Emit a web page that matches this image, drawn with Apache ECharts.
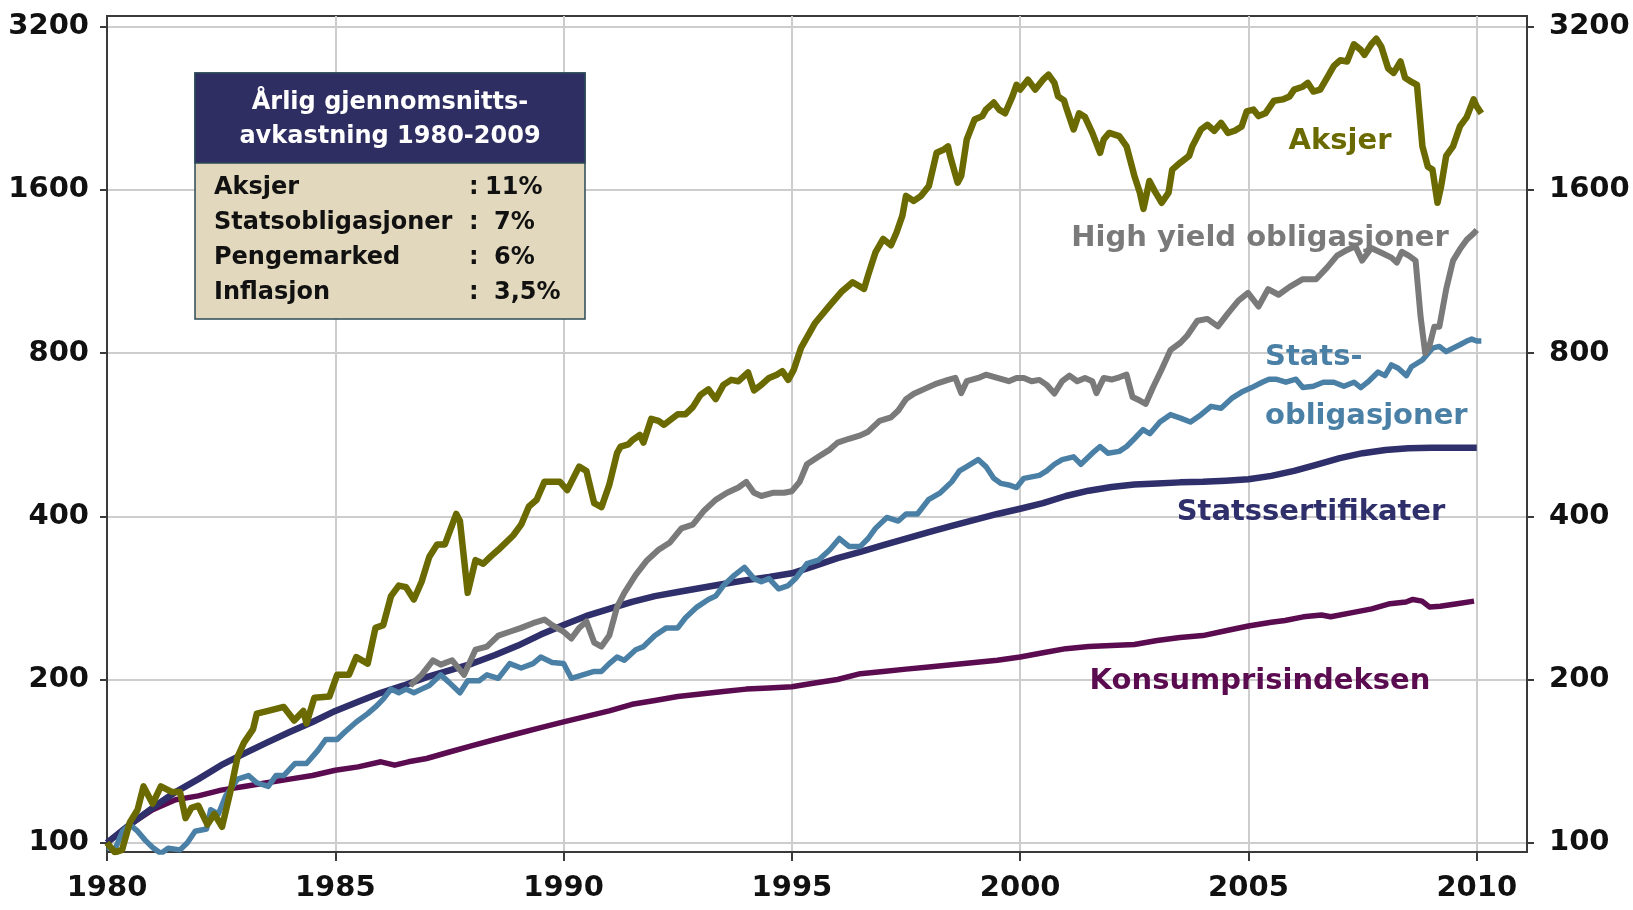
<!DOCTYPE html>
<html>
<head>
<meta charset="utf-8">
<script src="https://cdn.jsdelivr.net/npm/echarts/dist/echarts.min.js"></script>
<style>html,body{margin:0;padding:0;background:#fff}#chart{width:1633px;height:910px}</style>
</head>
<body>
<div id="chart"></div>
<script>
// ---------- data ----------
const yearTicks = [1980, 1985, 1990, 1995, 2000, 2005, 2010];
const valueTicks = [100, 200, 400, 800, 1600, 3200];

const aksjer = [[1980.0,100],[1980.17,96],[1980.33,97],[1980.5,109],[1980.67,115],[1980.8,127],[1981.0,118],[1981.18,127],[1981.43,124],[1981.6,124],[1981.72,111],[1981.85,116],[1982.0,117],[1982.2,108],[1982.35,113],[1982.52,107],[1982.7,124],[1982.86,144],[1983.0,153],[1983.2,162],[1983.28,173],[1983.53,175],[1983.87,178],[1984.1,168],[1984.3,175],[1984.37,166],[1984.54,185],[1984.87,186],[1985.04,204],[1985.3,204],[1985.46,220],[1985.71,214],[1985.88,249],[1986.05,252],[1986.22,285],[1986.39,298],[1986.55,296],[1986.72,281],[1986.89,303],[1987.06,337],[1987.23,355],[1987.4,355],[1987.65,404],[1987.73,392],[1987.9,289],[1988.07,332],[1988.24,327],[1988.4,337],[1988.57,347],[1988.74,358],[1988.9,369],[1989.07,386],[1989.24,417],[1989.41,429],[1989.58,463],[1989.75,463],[1989.92,463],[1990.08,447],[1990.34,494],[1990.5,485],[1990.67,423],[1990.83,416],[1991.0,457],[1991.17,523],[1991.25,538],[1991.42,543],[1991.5,552],[1991.67,565],[1991.75,547],[1991.92,605],[1992.08,600],[1992.2,590],[1992.5,617],[1992.67,617],[1992.83,636],[1993.0,670],[1993.17,686],[1993.33,658],[1993.5,699],[1993.67,714],[1993.83,710],[1994.04,737],[1994.17,683],[1994.33,699],[1994.5,720],[1994.67,730],[1994.79,741],[1994.92,714],[1995.04,745],[1995.2,818],[1995.5,907],[1995.83,980],[1996.08,1037],[1996.33,1081],[1996.58,1051],[1996.67,1114],[1996.83,1227],[1997.0,1299],[1997.17,1265],[1997.29,1334],[1997.42,1434],[1997.5,1560],[1997.67,1527],[1997.83,1560],[1998.0,1627],[1998.17,1873],[1998.33,1900],[1998.42,1925],[1998.46,1855],[1998.63,1650],[1998.71,1700],[1998.83,1982],[1999.0,2157],[1999.17,2189],[1999.25,2250],[1999.42,2319],[1999.54,2250],[1999.67,2215],[1999.83,2380],[1999.92,2500],[2000.0,2450],[2000.17,2555],[2000.33,2450],[2000.5,2555],[2000.62,2610],[2000.75,2520],[2000.83,2380],[2000.96,2340],[2001.0,2280],[2001.17,2068],[2001.29,2215],[2001.42,2180],[2001.58,2038],[2001.75,1873],[2001.83,1983],[2001.95,2038],[2002.17,2010],[2002.33,1925],[2002.5,1700],[2002.62,1582],[2002.7,1476],[2002.83,1662],[2002.95,1590],[2003.1,1515],[2003.25,1582],[2003.33,1744],[2003.51,1797],[2003.7,1849],[2003.77,1925],[2003.96,2068],[2004.1,2110],[2004.25,2057],[2004.4,2127],[2004.55,2038],[2004.7,2057],[2004.85,2095],[2004.96,2233],[2005.11,2250],[2005.22,2189],[2005.37,2215],[2005.56,2337],[2005.75,2350],[2005.9,2380],[2006.0,2450],[2006.19,2480],[2006.3,2520],[2006.42,2430],[2006.57,2450],[2006.72,2575],[2006.87,2710],[2007.01,2775],[2007.16,2760],[2007.31,2970],[2007.46,2900],[2007.54,2840],[2007.69,2970],[2007.8,3040],[2007.91,2940],[2008.06,2680],[2008.18,2630],[2008.33,2760],[2008.43,2575],[2008.54,2540],[2008.69,2500],[2008.81,1925],[2008.93,1765],[2009.03,1744],[2009.14,1515],[2009.22,1627],[2009.33,1849],[2009.48,1925],[2009.63,2095],[2009.78,2180],[2009.93,2350],[2010.0,2280],[2010.1,2215]];

const highYield = [[1986.64,195],[1986.89,204],[1987.14,217],[1987.31,213],[1987.56,217],[1987.82,204],[1988.07,227],[1988.32,230],[1988.57,241],[1988.82,245],[1989.07,249],[1989.33,254],[1989.58,258],[1989.75,252],[1990.0,245],[1990.17,238],[1990.34,249],[1990.5,256],[1990.67,234],[1990.83,230],[1991.0,241],[1991.17,272],[1991.33,289],[1991.58,312],[1991.83,332],[1992.08,347],[1992.33,358],[1992.58,380],[1992.83,386],[1993.08,410],[1993.33,429],[1993.58,442],[1993.83,452],[1994.0,463],[1994.17,442],[1994.33,436],[1994.58,442],[1994.83,442],[1995.0,445],[1995.17,463],[1995.33,499],[1995.58,515],[1995.83,531],[1996.0,547],[1996.25,556],[1996.5,564],[1996.67,573],[1996.92,600],[1997.17,609],[1997.33,627],[1997.5,658],[1997.67,673],[1997.92,688],[1998.17,703],[1998.42,714],[1998.58,720],[1998.71,675],[1998.83,710],[1999.08,720],[1999.25,730],[1999.5,720],[1999.75,710],[1999.92,720],[2000.08,720],[2000.25,710],[2000.42,714],[2000.58,699],[2000.75,674],[2000.92,710],[2001.08,727],[2001.25,710],[2001.42,720],[2001.58,710],[2001.67,675],[2001.83,720],[2002.0,715],[2002.17,722],[2002.33,730],[2002.46,664],[2002.62,654],[2002.75,645],[2002.9,689],[2003.1,747],[2003.29,810],[2003.51,836],[2003.66,862],[2003.88,918],[2004.1,925],[2004.33,896],[2004.55,947],[2004.78,1000],[2004.99,1033],[2005.22,975],[2005.43,1050],[2005.66,1025],[2005.9,1060],[2006.19,1095],[2006.48,1095],[2006.72,1150],[2006.94,1210],[2007.16,1240],[2007.34,1260],[2007.49,1185],[2007.69,1250],[2007.91,1225],[2008.13,1200],[2008.25,1175],[2008.36,1230],[2008.51,1210],[2008.66,1185],[2008.77,933],[2008.87,800],[2008.96,823],[2009.07,895],[2009.18,895],[2009.33,1049],[2009.48,1185],[2009.63,1243],[2009.78,1295],[2009.93,1330],[2010.0,1350]];

const statsobligasjoner = [[1980.0,98],[1980.17,97],[1980.34,105],[1980.5,108],[1980.67,105],[1980.84,101],[1981.0,98],[1981.18,95.5],[1981.34,97.7],[1981.6,97],[1981.76,100],[1981.93,105],[1982.18,106],[1982.27,115],[1982.44,113],[1982.6,122],[1982.86,131],[1983.1,133],[1983.28,129],[1983.53,127],[1983.7,133],[1983.87,133],[1984.12,140],[1984.37,140],[1984.62,148],[1984.79,155],[1985.04,155],[1985.21,160],[1985.46,167],[1985.71,173],[1985.88,178],[1986.05,184],[1986.22,192],[1986.39,189],[1986.55,192],[1986.72,189],[1986.89,192],[1987.06,195],[1987.31,204],[1987.48,198],[1987.73,189],[1987.9,199],[1988.15,199],[1988.32,204],[1988.57,201],[1988.82,214],[1989.07,210],[1989.33,214],[1989.5,220],[1989.75,215],[1990.0,214],[1990.17,201],[1990.42,204],[1990.67,207],[1990.83,207],[1991.0,214],[1991.17,220],[1991.33,217],[1991.58,227],[1991.75,230],[1992.0,241],[1992.25,249],[1992.5,249],[1992.67,260],[1992.92,272],[1993.17,281],[1993.33,285],[1993.5,298],[1993.75,312],[1993.96,322],[1994.17,307],[1994.33,303],[1994.5,307],[1994.71,294],[1994.92,298],[1995.08,307],[1995.33,327],[1995.58,332],[1995.83,347],[1996.04,364],[1996.25,352],[1996.5,352],[1996.67,364],[1996.83,380],[1997.08,398],[1997.33,392],[1997.5,404],[1997.75,404],[1998.0,430],[1998.25,442],[1998.5,463],[1998.67,485],[1998.83,494],[1999.08,509],[1999.25,494],[1999.42,470],[1999.58,460],[1999.75,457],[1999.92,452],[2000.08,470],[2000.25,473],[2000.42,476],[2000.58,485],[2000.75,499],[2000.92,509],[2001.17,515],[2001.33,499],[2001.58,523],[2001.75,538],[2001.92,523],[2002.17,527],[2002.33,538],[2002.5,556],[2002.69,578],[2002.84,568],[2003.06,597],[2003.29,616],[2003.51,607],[2003.73,597],[2003.96,616],[2004.18,638],[2004.4,633],[2004.63,660],[2004.85,678],[2005.07,691],[2005.3,707],[2005.45,716],[2005.6,716],[2005.82,707],[2006.04,716],[2006.19,691],[2006.42,695],[2006.64,707],[2006.87,707],[2007.09,695],[2007.31,707],[2007.46,691],[2007.61,707],[2007.84,738],[2007.99,727],[2008.13,761],[2008.28,750],[2008.46,727],[2008.57,755],[2008.81,777],[2009.03,817],[2009.18,823],[2009.33,805],[2009.48,817],[2009.63,829],[2009.78,842],[2009.89,849],[2010.0,842],[2010.1,842]];

const statssertifikater = [[1980,100],[1980.5,108],[1981,116],[1981.5,124],[1982,131],[1982.5,139],[1983,146],[1983.5,153],[1984,160],[1984.5,167],[1985,175],[1985.5,182],[1986,189],[1986.5,195],[1987,202],[1987.5,208],[1988,214],[1988.5,222],[1989,231],[1989.5,242],[1990,252],[1990.5,262],[1991,270],[1991.5,278],[1992,285],[1992.5,290],[1993,295],[1993.5,300],[1994,305],[1994.5,309],[1995,314],[1995.5,324],[1996,335],[1996.5,344],[1997,354],[1997.5,364],[1998,374],[1998.5,384],[1999,394],[1999.5,404],[2000,413],[2000.5,423],[2001,436],[2001.5,446],[2002,453],[2002.5,458],[2003,460],[2003.5,462],[2004,463],[2004.5,465],[2005,468],[2005.5,475],[2006,485],[2006.5,498],[2007,512],[2007.5,523],[2008,530],[2008.5,534],[2009,535],[2009.5,535],[2010,535]];

const konsumprisindeksen = [[1980,100],[1980.5,108],[1981,115],[1981.5,120],[1982,122],[1982.5,125],[1983,127],[1983.5,129],[1984,131],[1984.5,133],[1985,136],[1985.5,138],[1986,141],[1986.3,139],[1986.6,141],[1987,143],[1987.5,147],[1988,151],[1988.5,155],[1989,159],[1989.5,163],[1990,167],[1990.5,171],[1991,175],[1991.5,180],[1992,183],[1992.5,186],[1993,188],[1993.5,190],[1994,192],[1994.5,193],[1995,194],[1995.5,197],[1996,200],[1996.5,205],[1997,207],[1997.5,209],[1998,211],[1998.5,213],[1999,215],[1999.5,217],[2000,220],[2000.5,224],[2001,228],[2001.5,230],[2002,231],[2002.5,232],[2003,236],[2003.5,239],[2004,241],[2004.5,246],[2005,251],[2005.5,255],[2005.8,257],[2006.2,261],[2006.6,263],[2006.8,261],[2007.3,266],[2007.7,270],[2008.1,276],[2008.45,278],[2008.6,281],[2008.8,279],[2008.97,272],[2009.2,273],[2009.57,276],[2009.94,279]];

const boxTitle = ['Årlig gjennomsnitts-', 'avkastning 1980-2009'];
const boxNames = ['Aksjer', 'Statsobligasjoner', 'Pengemarked', 'Inflasjon'];
const boxValues = ['11%', '7%', '6%', '3,5%'];

// ---------- chart ----------
const FONT = '"DejaVu Sans", "Liberation Sans", sans-serif';
const AXIS = '#3a3a3a';
const GRIDC = '#cdcdcd';
const log2 = v => Math.log2(v / 100);
const toSeries = arr => arr.map(p => [p[0], log2(p[1])]);
const yTicks = valueTicks.map(log2);

function yAxis(pos, margin) {
  return {
    type: 'value', position: pos, min: -0.057, max: 5.0656,
    axisLine: { show: true, lineStyle: { color: AXIS, width: 2 } },
    axisTick: { show: true, customValues: yTicks, length: 7, lineStyle: { color: AXIS, width: 2 } },
    axisLabel: {
      customValues: yTicks, margin: margin, fontSize: 29, fontWeight: 'bold', fontFamily: FONT, color: '#111',
      formatter: v => String(Math.round(100 * Math.pow(2, v)))
    },
    splitLine: { show: pos === 'left', lineStyle: { color: GRIDC, width: 2 } }
  };
}

const chart = echarts.init(document.getElementById('chart'), null, { renderer: 'canvas' });

const lineDefs = [
  { name: 'Konsumprisindeksen', data: konsumprisindeksen, color: '#5b0b4f', width: 5.5 },
  { name: 'Statssertifikater', data: statssertifikater, color: '#2f2f6b', width: 6.5 },
  { name: 'Statsobligasjoner', data: statsobligasjoner, color: '#4b80a6', width: 5.5 },
  { name: 'High yield obligasjoner', data: highYield, color: '#7a7a7a', width: 6 },
  { name: 'Aksjer', data: aksjer, color: '#6a6a00', width: 6.5 }
];

const labelDefs = [
  { text: 'Aksjer', x: 1340, y: 141, color: '#6a6a00', align: 'center' },
  { text: 'High yield obligasjoner', x: 1260, y: 238, color: '#7a7a7a', align: 'center' },
  { text: 'Stats-', x: 1265, y: 357, color: '#4b80a6', align: 'left' },
  { text: 'obligasjoner', x: 1265, y: 416, color: '#4b80a6', align: 'left' },
  { text: 'Statssertifikater', x: 1311, y: 512, color: '#2f2f6b', align: 'center' },
  { text: 'Konsumprisindeksen', x: 1260, y: 681, color: '#5b0b4f', align: 'center' }
];

const graphics = labelDefs.map(l => ({
  type: 'text', x: l.x, y: l.y, z: 50,
  style: { text: l.text, fill: l.color, font: 'bold 29px ' + FONT, align: l.align, verticalAlign: 'middle' }
}));

// summary box
const bx = 195, by = 73, bw = 390, bh = 246, hh = 90;
graphics.push({ type: 'rect', z: 60, shape: { x: bx, y: by, width: bw, height: bh }, style: { fill: '#e2d8bd', stroke: '#2c4a58', lineWidth: 1.5 } });
graphics.push({ type: 'rect', z: 61, shape: { x: bx, y: by, width: bw, height: hh }, style: { fill: '#2e2e62', stroke: '#2c4a58', lineWidth: 1.5 } });
boxTitle.forEach((t, i) => graphics.push({
  type: 'text', z: 62, x: bx + bw / 2, y: 103 + i * 34,
  style: { text: t, fill: '#ffffff', font: 'bold 24px ' + FONT, align: 'center', verticalAlign: 'middle' }
}));
boxNames.forEach((t, i) => {
  const yy = 188 + i * 35;
  graphics.push({ type: 'text', z: 62, x: 214, y: yy, style: { text: t, fill: '#111', font: 'bold 24px ' + FONT, align: 'left', verticalAlign: 'middle' } });
  graphics.push({ type: 'text', z: 62, x: 469, y: yy, style: { text: ':', fill: '#111', font: 'bold 24px ' + FONT, align: 'left', verticalAlign: 'middle' } });
  graphics.push({ type: 'text', z: 62, x: i === 0 ? 485 : 494, y: yy, style: { text: boxValues[i], fill: '#111', font: 'bold 24px ' + FONT, align: 'left', verticalAlign: 'middle' } });
});

chart.setOption({
  animation: false,
  backgroundColor: '#ffffff',
  grid: { left: 107, right: 106, top: 16, bottom: 58, show: true, borderColor: AXIS, borderWidth: 2, backgroundColor: 'transparent' },
  xAxis: {
    type: 'value', min: 1980, max: 2011.1,
    axisLine: { show: true, onZero: false, lineStyle: { color: AXIS, width: 2 } },
    axisTick: { show: true, customValues: yearTicks, length: 9, lineStyle: { color: AXIS, width: 2 } },
    axisLabel: { customValues: yearTicks, margin: 22, fontSize: 29, fontWeight: 'bold', fontFamily: FONT, color: '#111', formatter: v => String(v) },
    splitLine: { show: true, lineStyle: { color: GRIDC, width: 2 } }
  },
  yAxis: [yAxis('left', 18), yAxis('right', 22)],
  series: lineDefs.map(d => ({
    name: d.name, type: 'line', data: toSeries(d.data), showSymbol: false, symbol: 'none',
    lineStyle: { color: d.color, width: d.width, join: 'round' }, itemStyle: { color: d.color }, z: 3
  })),
  graphic: graphics
});
</script>
</body>
</html>
